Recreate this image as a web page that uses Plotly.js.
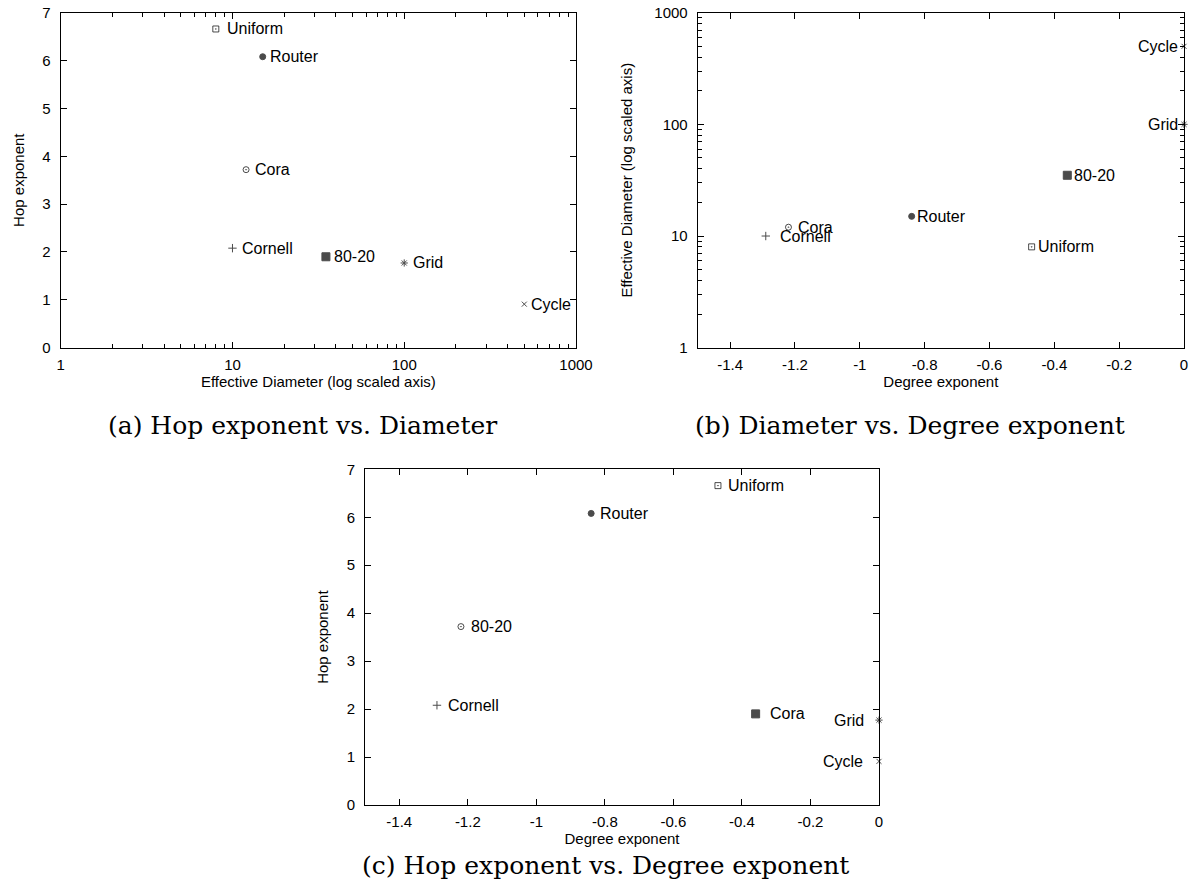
<!DOCTYPE html>
<html>
<head>
<meta charset="utf-8">
<script src="https://cdn.plot.ly/plotly-3.0.1.min.js"></script>
<style>html,body{margin:0;padding:0;background:#fff;}#chart{width:1190px;height:886px;}</style>
</head>
<body>
<div id="chart"></div>
<script>
// ---- data ----
var names = ['Uniform', 'Router', 'Cora', 'Cornell', '80-20', 'Grid', 'Cycle'];
var effDiameter = [8, 15, 12, 10, 35, 100, 500];
var hopExponent = [6.66, 6.08, 3.72, 2.08, 1.90, 1.77, 0.91];
var degreeExponent = [-0.47, -0.84, -1.22, -1.29, -0.36, 0, 0];
// panel (c) in the original shows these point labels
var namesC = ['Uniform', 'Router', '80-20', 'Cornell', 'Cora', 'Grid', 'Cycle'];
var degTickVals = [-1.4, -1.2, -1, -0.8, -0.6, -0.4, -0.2, 0];
var degTickText = ['-1.4', '-1.2', '-1', '-0.8', '-0.6', '-0.4', '-0.2', '0'];
var captions = ['(a) Hop exponent vs. Diameter', '(b) Diameter vs. Degree exponent', '(c) Hop exponent vs. Degree exponent'];

// ---- styles ----
var symbols = ['square-open-dot', 'circle', 'circle-open-dot', 'cross-thin', 'square', 'asterisk', 'x-thin'];
var sizes = [6, 6, 6, 6, 8, 6, 5];
var sansFont = 'Liberation Sans, Arial, sans-serif';
var labelFont = {family: sansFont, size: 16, color: '#000'};

// label placement per panel: anchor side and pixel shift
var shiftA = [9, 5, 7, 8, 6, 7, 5];
var sideA = ['left', 'left', 'left', 'left', 'left', 'left', 'left'];
var shiftB = [4, 3, 8, 12, 5, -4, -4];
var sideB = ['left', 'left', 'left', 'left', 'left', 'right', 'right'];
var shiftC = [8, 7, 8, 9, 12, -13, -14];
var sideC = ['left', 'left', 'left', 'left', 'left', 'right', 'right'];

function trace(x, y, xa, ya) {
  return {
    type: 'scatter', mode: 'markers', x: x, y: y, xaxis: xa, yaxis: ya,
    cliponaxis: false, hoverinfo: 'skip',
    marker: {symbol: symbols, size: sizes, color: '#000', line: {color: '#000', width: 1}}
  };
}

var data = [
  trace(effDiameter, hopExponent, 'x', 'y'),
  trace(degreeExponent, effDiameter, 'x2', 'y2'),
  trace(degreeExponent, hopExponent, 'x3', 'y3')
];

var annotations = [];
function addLabels(xs, ys, labels, xref, yref, sides, shifts) {
  for (var i = 0; i < labels.length; i++) {
    annotations.push({
      x: xs[i], y: ys[i], xref: xref, yref: yref, text: labels[i], showarrow: false,
      xanchor: sides[i], yanchor: 'middle', xshift: shifts[i], font: labelFont
    });
  }
}
addLabels(effDiameter.map(function (v) { return Math.log10(v); }), hopExponent, names, 'x', 'y', sideA, shiftA);
addLabels(degreeExponent, effDiameter.map(function (v) { return Math.log10(v); }), names, 'x2', 'y2', sideB, shiftB);
addLabels(degreeExponent, hopExponent, namesC, 'x3', 'y3', sideC, shiftC);

var capFont = {family: 'DejaVu Serif, serif', size: 25, color: '#000'};
annotations.push({xref: 'paper', yref: 'paper', x: 302 / 1190, y: 1 - 426 / 886, text: captions[0], showarrow: false, xanchor: 'center', yanchor: 'middle', font: capFont});
annotations.push({xref: 'paper', yref: 'paper', x: 910 / 1190, y: 1 - 426 / 886, text: captions[1], showarrow: false, xanchor: 'center', yanchor: 'middle', font: capFont});
annotations.push({xref: 'paper', yref: 'paper', x: 605 / 1190, y: 1 - 865 / 886, text: captions[2], showarrow: false, xanchor: 'center', yanchor: 'middle', font: capFont});

var tickFont = {family: sansFont, size: 15, color: '#000'};
var titleFont = {family: sansFont, size: 15, color: '#000'};
function baseAxis(extra) {
  var a = {
    showline: true, linecolor: '#000', linewidth: 1, mirror: 'allticks',
    ticks: 'inside', ticklen: 6, tickwidth: 1, tickcolor: '#000',
    showgrid: false, zeroline: false, tickfont: tickFont, automargin: false, fixedrange: true
  };
  for (var k in extra) a[k] = extra[k];
  return a;
}

var layout = {
  width: 1190, height: 886,
  margin: {l: 0, r: 0, t: 0, b: 0},
  paper_bgcolor: '#fff', plot_bgcolor: '#fff',
  showlegend: false,
  annotations: annotations,
  xaxis: baseAxis({domain: [60.7 / 1190, 576 / 1190], anchor: 'y', type: 'log', range: [0, 3], dtick: 1,
    exponentformat: 'none', ticklabelstandoff: 3,
    minor: {ticks: 'inside', ticklen: 4, tickcolor: '#000', dtick: 'D1'},
    title: {text: 'Effective Diameter (log scaled axis)', font: titleFont, standoff: 4}}),
  yaxis: baseAxis({domain: [1 - 347.7 / 886, 1 - 12.7 / 886], anchor: 'x', range: [0, 7], dtick: 1,
    ticklabelstandoff: 6,
    title: {text: 'Hop exponent', font: titleFont, standoff: 14}}),
  xaxis2: baseAxis({domain: [697.7 / 1190, 1184 / 1190], anchor: 'y2', range: [-1.5, 0],
    tickmode: 'array', tickvals: degTickVals, ticktext: degTickText, ticklabelstandoff: 3,
    title: {text: 'Degree exponent', font: titleFont, standoff: 4}}),
  yaxis2: baseAxis({domain: [1 - 347.7 / 886, 1 - 12.7 / 886], anchor: 'x2', type: 'log', range: [0, 3], dtick: 1,
    exponentformat: 'none', ticklabelstandoff: 6,
    minor: {ticks: 'inside', ticklen: 4, tickcolor: '#000', dtick: 'D1'},
    title: {text: 'Effective Diameter (log scaled axis)', font: titleFont, standoff: 18}}),
  xaxis3: baseAxis({domain: [365 / 1190, 879 / 1190], anchor: 'y3', range: [-1.5, 0],
    tickmode: 'array', tickvals: degTickVals, ticktext: degTickText, ticklabelstandoff: 3,
    title: {text: 'Degree exponent', font: titleFont, standoff: 2}}),
  yaxis3: baseAxis({domain: [1 - 805 / 886, 1 - 469.3 / 886], anchor: 'x3', range: [0, 7], dtick: 1,
    ticklabelstandoff: 6,
    title: {text: 'Hop exponent', font: titleFont, standoff: 14}})
};

Plotly.newPlot('chart', data, layout, {staticPlot: true, displayModeBar: false});
</script>
</body>
</html>
